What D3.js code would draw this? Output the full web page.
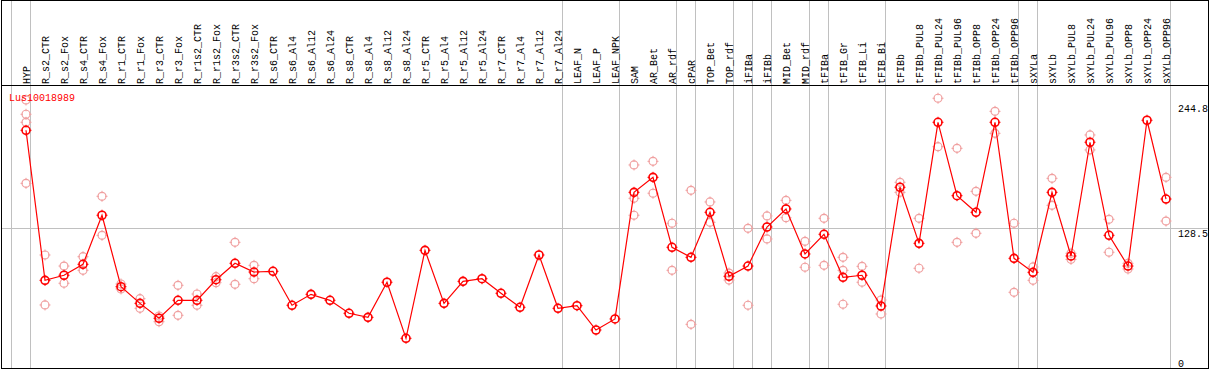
<!DOCTYPE html>
<html>
<head>
<meta charset="utf-8">
<script src="https://cdn.jsdelivr.net/npm/d3@7"></script>
<style>
  html, body { margin: 0; padding: 0; background: #fff; }
  svg { display: block; }
  text { font-family: "Liberation Mono", "DejaVu Sans Mono", monospace; font-size: 10px; }
</style>
</head>
<body>
<svg id="chart" width="1209" height="370"></svg>
<script>
const title = "Lus10018989";

const categories = [
  "HYP","R_s2_CTR","R_s2_Fox","R_s4_CTR","R_s4_Fox","R_r1_CTR","R_r1_Fox","R_r3_CTR","R_r3_Fox",
  "R_r1s2_CTR","R_r1s2_Fox","R_r3s2_CTR","R_r3s2_Fox","R_s6_CTR","R_s6_Al4","R_s6_Al12","R_s6_Al24",
  "R_s8_CTR","R_s8_Al4","R_s8_Al12","R_s8_Al24","R_r5_CTR","R_r5_Al4","R_r5_Al12","R_r5_Al24",
  "R_r7_CTR","R_r7_Al4","R_r7_Al12","R_r7_Al24","LEAF_N","LEAF_P","LEAF_NPK","SAM","AR_Bet","AR_rdf",
  "cPAR","TOP_Bet","TOP_rdf","iFIBa","iFIBb","MID_Bet","MID_rdf","tFIBa","tFIB_Gr","tFIB_Li","tFIB_Bi",
  "tFIBb","tFIBb_PUL8","tFIBb_PUL24","tFIBb_PUL96","tFIBb_OPP8","tFIBb_OPP24","tFIBb_OPP96",
  "sXYLa","sXYLb","sXYLb_PUL8","sXYLb_PUL24","sXYLb_PUL96","sXYLb_OPP8","sXYLb_OPP24","sXYLb_OPP96"
];

const means = [
  225.2, 77.2, 82.2, 93.0, 141.4, 70.9, 54.5, 39.8, 57.5,
  57.5, 77.8, 94.0, 85.4, 86.1, 52.6, 63.4, 57.5,
  44.7, 40.7, 75.3, 20.0, 106.8, 54.5, 76.2, 78.8,
  64.4, 50.6, 102.2, 49.6, 52.2, 28.2, 39.1, 164.0, 178.8, 109.8,
  99.9, 144.3, 81.2, 91.3, 129.8, 147.6, 103.2, 122.6, 80.2, 82.2, 51.9,
  169.0, 113.7, 233.1, 160.7, 144.3, 233.1, 98.9,
  85.1, 164.0, 101.2, 213.4, 121.6, 91.3, 235.1, 157.4
];

const replicates = [
  [255.1, 241.0, 233.1, 172.9], [102.2, 52.9], [91.3, 74.3], [100.5, 87.1], [160.1, 121.6],
  [73.6, 68.7], [59.1, 49.6], [42.0, 36.4], [72.3, 42.7],
  [63.7, 52.6], [80.8, 74.9], [114.7, 73.3], [92.0, 78.8], [], [], [], [],
  [], [], [], [], [], [], [], [],
  [], [], [], [], [], [], [], [191.0, 158.1, 141.4], [194.6, 163.1], [133.5, 87.1],
  [166.0, 33.8], [154.5, 134.4], [84.4, 77.5], [128.5, 52.6], [140.7, 118.0], [156.1, 139.0], [115.7, 90.1],
  [138.4, 92.0], [99.9, 87.1, 53.6], [91.0, 75.3], [57.8, 44.0],
  [173.9, 164.0], [138.4, 89.1], [256.8, 209.0], [207.4, 114.7], [165.0, 123.6], [243.9, 222.2], [133.5, 65.4],
  [90.4, 77.2], [177.8, 151.2], [103.9, 97.9], [220.6, 205.8], [137.4, 104.9], [94.0, 88.4], [], [178.8, 135.7]
];

const groupStarts = ["HYP","R_s2_CTR","LEAF_N","SAM","cPAR","TOP_Bet","iFIBa","iFIBb","MID_Bet",
                     "tFIBa","tFIB_Gr","tFIBb","sXYLa","sXYLb"];
const yTickValues = [0, 128.5, 244.8];
const yTickLabels = ["0", "128.5", "244.8"];

const svg = d3.select("#chart");

const x = d3.scaleBand().domain(categories).range([11, 11 + 19 * categories.length]).paddingInner(0).paddingOuter(0);
const xp = c => x(c) + 15;
const y = d3.scaleLinear().domain([0, 257]).range([358.6, 358.6 - 257 * 1.0138]);

// group separators (gray verticals)
const gLines = svg.append("g");
groupStarts.concat(["__end"]).forEach(c => {
  const xx = c === "__end" ? x.range()[1] : x(c);
  gLines.append("line")
    .attr("x1", xx + 0.5).attr("x2", xx + 0.5)
    .attr("y1", 0).attr("y2", 368)
    .attr("stroke", "#c0c0c0").attr("stroke-width", 1);
});

// horizontal gridline at mid tick
gLines.append("line")
  .attr("x1", 1).attr("x2", 1208)
  .attr("y1", Math.round(y(128.5)) + 0.5).attr("y2", Math.round(y(128.5)) + 0.5)
  .attr("stroke", "#c0c0c0").attr("stroke-width", 1);

// header separator
svg.append("line").attr("x1", 1).attr("x2", 1208).attr("y1", 85.5).attr("y2", 85.5)
  .attr("stroke", "#000").attr("stroke-width", 1);

// category labels
svg.append("g").selectAll("text").data(categories).join("text")
  .attr("transform", d => `translate(${xp(d) + 4},84) rotate(-90)`)
  .attr("text-anchor", "start")
  .attr("fill", "#000")
  .text(d => d);

// marker helper
function marker(g, cx, cy, color, sw) {
  const r = 4;
  g.append("circle").attr("cx", cx).attr("cy", cy).attr("r", r)
    .attr("fill", "none").attr("stroke", color).attr("stroke-width", sw);
  [[0,-1],[0,1],[-1,0],[1,0]].forEach(([dx, dy]) => {
    g.append("line")
      .attr("x1", cx + dx * (r - 1)).attr("y1", cy + dy * (r - 1))
      .attr("x2", cx + dx * (r + 1.5)).attr("y2", cy + dy * (r + 1.5))
      .attr("stroke", color).attr("stroke-width", 1);
  });
}

// replicates
const gReps = svg.append("g");
categories.forEach((c, i) => {
  replicates[i].forEach(v => marker(gReps, xp(c), y(v), "#f0a0a0", 1.2));
});

// mean line
const line = d3.line().x((d, i) => xp(categories[i])).y(d => y(d));
svg.append("path").datum(means).attr("d", line)
  .attr("fill", "none").attr("stroke", "#ff0000").attr("stroke-width", 1.2);

// mean markers
const gMeans = svg.append("g");
categories.forEach((c, i) => marker(gMeans, xp(c), y(means[i]), "#ff0000", 1.6));

// title
svg.append("text").attr("x", 9).attr("y", 101).attr("fill", "#ff0000").text(title);

// y axis labels
const axis = d3.axisRight(y).tickValues(yTickValues).tickSize(0).tickPadding(0)
  .tickFormat((d, i) => yTickLabels[i]);
const gAxis = svg.append("g").attr("transform", "translate(1178,0)").call(axis);
gAxis.select(".domain").remove();
gAxis.selectAll("text")
  .attr("font-family", "Liberation Mono, DejaVu Sans Mono, monospace").attr("font-size", 10)
  .attr("fill", "#000")
  .attr("dy", d => d === 244.8 ? "0.06em" : "0.77em");

// outer border (drawn last)
svg.append("rect").attr("x", 1.5).attr("y", 0.5).attr("width", 1207).attr("height", 368)
  .attr("fill", "none").attr("stroke", "#000").attr("stroke-width", 1);
</script>
</body>
</html>
